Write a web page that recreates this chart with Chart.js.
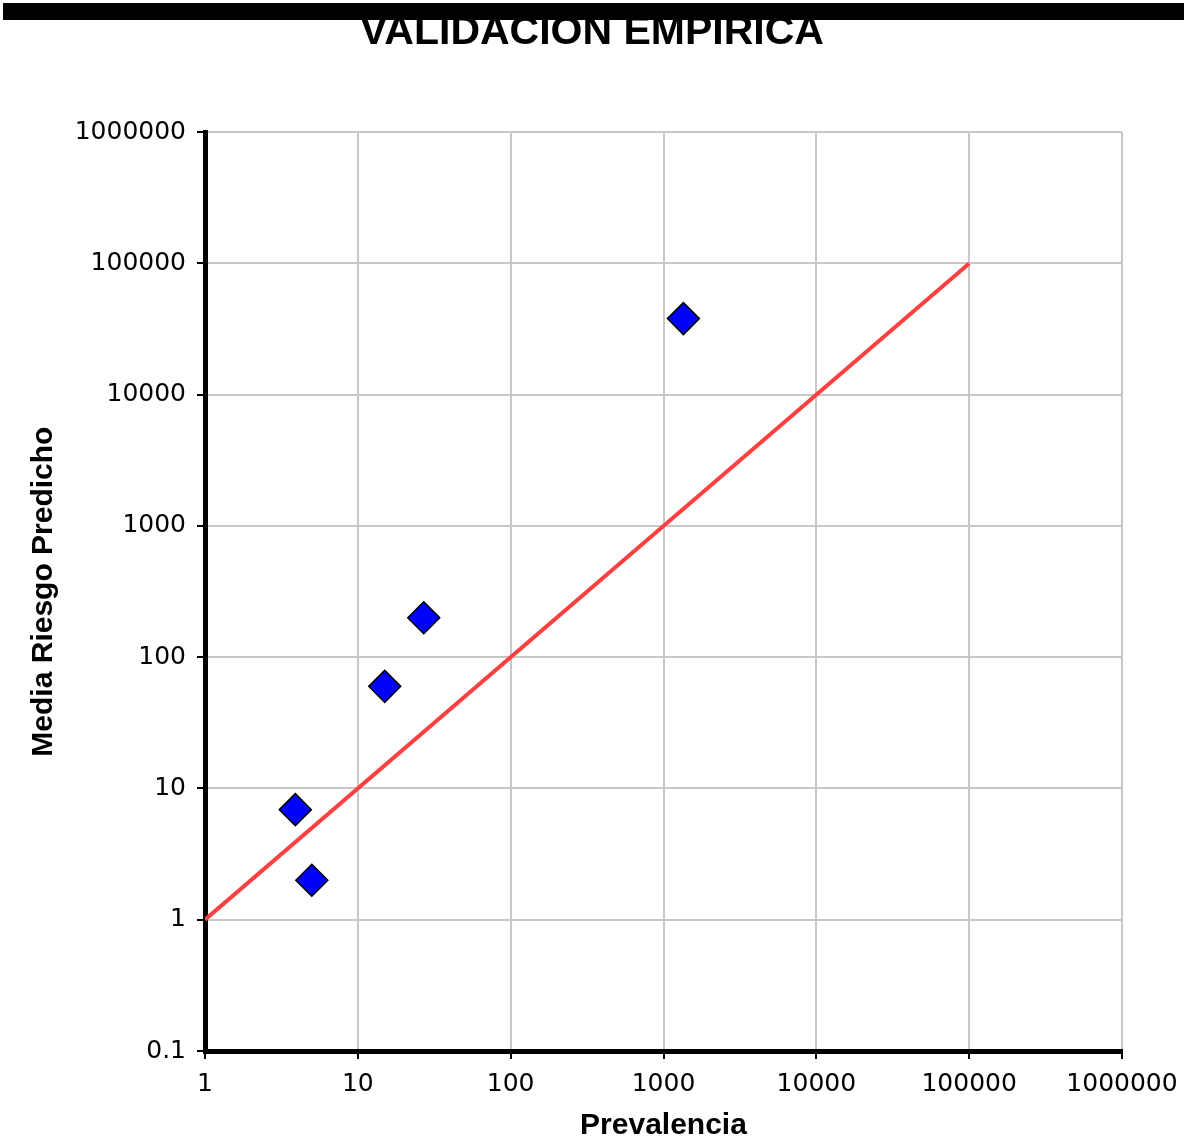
<!DOCTYPE html>
<html>
<head>
<meta charset="utf-8">
<script src="https://cdn.jsdelivr.net/npm/chart.js@4/dist/chart.umd.min.js"></script>
<style>
  html, body { margin: 0; padding: 0; background: #fff; }
  #wrap { position: relative; width: 1184px; height: 1141px; }
  #banda { position: absolute; left: 3px; top: 3px; width: 1181px; height: 17px; background: #000; }
</style>
</head>
<body>
<div id="wrap">
  <canvas id="grafico" width="1184" height="1141"></canvas>
  <div id="banda"></div>
</div>
<script>
// datos
const prevalencia = [3.9, 5, 15, 27, 1350];
const riesgoPredicho = [6.9, 2, 60, 200, 38000];
const lineaX = [1, 100000];
const lineaY = [1, 100000];
const ticksX = [1, 10, 100, 1000, 10000, 100000, 1000000];
const ticksY = [0.1, 1, 10, 100, 1000, 10000, 100000, 1000000];

const puntos = prevalencia.map((x, i) => ({ x: x, y: riesgoPredicho[i] }));
const linea = lineaX.map((x, i) => ({ x: x, y: lineaY[i] }));

const fuenteTicks = { family: '"DejaVu Sans", Verdana, sans-serif', size: 25 };
const fuenteEje = { family: '"Liberation Sans", Arial, sans-serif', size: 30, weight: 'bold', lineHeight: 1 };

function ejeLog(valores, extra) {
    return Object.assign({
        type: 'logarithmic',
        min: valores[0],
        max: valores[valores.length - 1],
        afterBuildTicks: scale => { scale.ticks = valores.map(v => ({ value: v })); },
        grid: { color: '#c8c8c8', lineWidth: 2, tickColor: '#000', tickLength: 8, tickWidth: 2 },
        border: { color: '#000', width: 5 }
    }, extra);
}

new Chart(document.getElementById('grafico'), {
    type: 'scatter',
    data: {
        datasets: [
            {
                label: 'Validacion',
                data: puntos,
                pointStyle: 'rectRot',
                pointRadius: 16,
                pointHoverRadius: 16,
                backgroundColor: '#0000ff',
                borderColor: '#000',
                borderWidth: 1.5
            },
            {
                type: 'line',
                label: 'Referencia',
                data: linea,
                borderColor: '#ff4040',
                borderWidth: 4,
                pointRadius: 0,
                fill: false
            }
        ]
    },
    options: {
        responsive: false,
        animation: false,
        layout: { padding: 0 },
        plugins: {
            legend: { display: false },
            tooltip: { enabled: false },
            title: {
                display: true,
                text: 'VALIDACION EMPIRICA',
                color: '#000',
                font: { family: '"Liberation Sans", Arial, sans-serif', size: 41, weight: 'bold', lineHeight: 1.2 },
                padding: { top: 8, bottom: 75 }
            }
        },
        scales: {
            x: ejeLog(ticksX, {
                position: 'bottom',
                afterFit: scale => { scale.height = 90; scale.paddingRight = 0; },
                ticks: { color: '#000', font: fuenteTicks, autoSkip: false, maxRotation: 0, padding: 10, callback: v => v.toString() },
                title: { display: true, text: 'Prevalencia', color: '#000', font: fuenteEje, padding: { top: 0, bottom: 0 } }
            }),
            y: ejeLog(ticksY, {
                position: 'left',
                afterFit: scale => { scale.width = 205; },
                ticks: { color: '#000', font: fuenteTicks, autoSkip: false, padding: 11, callback: v => v.toString() },
                title: { display: true, text: 'Media Riesgo Predicho', color: '#000', font: fuenteEje, padding: { top: 29, bottom: 0 } }
            }),
            // margen derecho vacio
            margen: {
                type: 'linear',
                position: 'right',
                afterFit: scale => { scale.width = 62; },
                ticks: { display: false },
                grid: { display: false },
                border: { display: false }
            }
        }
    }
});
</script>
</body>
</html>
